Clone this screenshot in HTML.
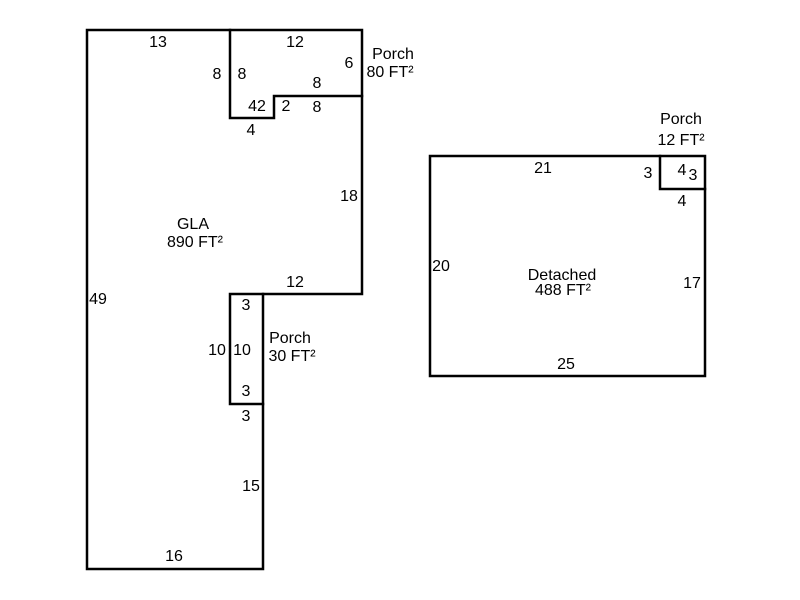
<!DOCTYPE html>
<html><head><style>body{margin:0;background:#fff}svg{display:block}text{font-family:"Liberation Sans",Arial,sans-serif;font-size:16px;fill:#000;text-anchor:middle}</style></head>
<body>
<svg width="800" height="600" viewBox="0 0 800 600">
<g fill="none" stroke="#000" stroke-width="2.5" stroke-linecap="square">
<path d="M87 30 H362 V294 H263 V569 H87 Z"/>
<path d="M230 30 V118 H274 V96 H362"/>
<path d="M263 294 H230 V404 H263"/>
<rect x="430" y="156" width="275" height="220"/>
<path d="M660 156 V189 H705"/>
</g>
<text x="158" y="47">13</text>
<text x="295" y="47">12</text>
<text x="217" y="79">8</text>
<text x="242" y="79">8</text>
<text x="349" y="68">6</text>
<text x="317" y="88">8</text>
<text x="257" y="111">42</text>
<text x="286" y="111">2</text>
<text x="317" y="112">8</text>
<text x="251" y="135">4</text>
<text x="393" y="59">Porch</text>
<text x="390" y="77">80 FT²</text>
<text x="193" y="229">GLA</text>
<text x="195" y="247">890 FT²</text>
<text x="349" y="201">18</text>
<text x="295" y="287">12</text>
<text x="98" y="304">49</text>
<text x="246" y="310">3</text>
<text x="217" y="355">10</text>
<text x="242" y="355">10</text>
<text x="290" y="343">Porch</text>
<text x="292" y="361">30 FT²</text>
<text x="246" y="396">3</text>
<text x="246" y="421">3</text>
<text x="251" y="491">15</text>
<text x="174" y="561">16</text>
<text x="681" y="124">Porch</text>
<text x="681" y="145">12 FT²</text>
<text x="543" y="173">21</text>
<text x="648" y="178">3</text>
<text x="682" y="175">4</text>
<text x="693" y="180">3</text>
<text x="682" y="206">4</text>
<text x="441" y="271">20</text>
<text x="562" y="280">Detached</text>
<text x="563" y="295">488 FT²</text>
<text x="692" y="288">17</text>
<text x="566" y="369">25</text>
</svg>
</body></html>
